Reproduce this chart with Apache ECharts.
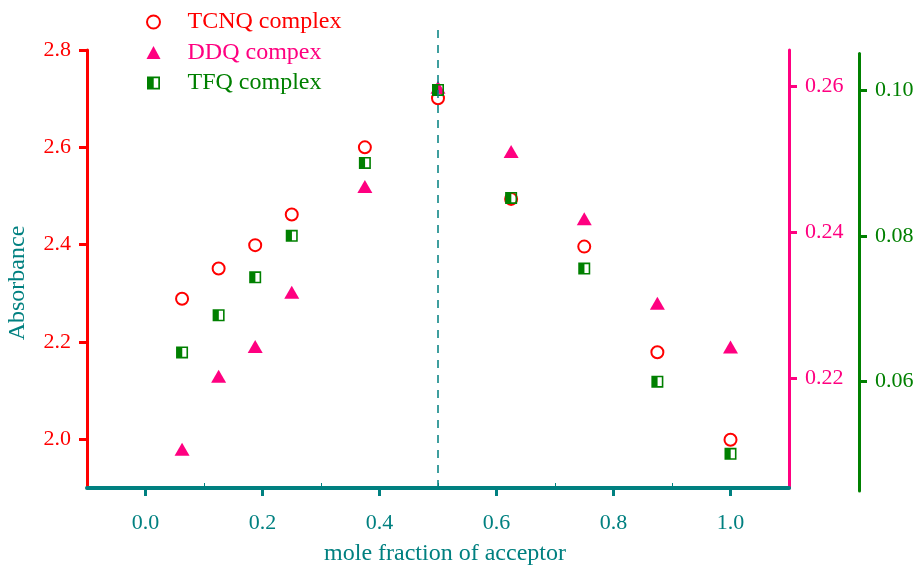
<!DOCTYPE html>
<html>
<head>
<meta charset="utf-8">
<script src="https://cdn.jsdelivr.net/npm/echarts@6/dist/echarts.min.js"></script>
<style>html,body{margin:0;padding:0;background:#fff;}#chart{width:917px;height:568px;}</style>
</head>
<body>
<div id="chart"></div>
<script>
// ---- data ----
var xValues = [0.0625, 0.125, 0.1875, 0.25, 0.375, 0.5, 0.625, 0.75, 0.875, 1.0];
var tcnq = [2.289, 2.351, 2.399, 2.462, 2.600, 2.701, 2.494, 2.396, 2.179, 1.999];
var ddq = [0.2103, 0.2203, 0.2244, 0.2318, 0.2463, 0.2599, 0.2511, 0.2419, 0.2303, 0.2243];
var tfq = [0.0640, 0.0691, 0.0743, 0.0800, 0.0900, 0.1000, 0.0852, 0.0755, 0.0600, 0.0501];
var seriesNames = ['TCNQ complex', 'DDQ compex', 'TFQ complex'];
var xTicks = [0.0, 0.2, 0.4, 0.6, 0.8, 1.0];
var xMinorTicks = [0.1, 0.3, 0.5, 0.7, 0.9];
var leftTicks = [2.0, 2.2, 2.4, 2.6, 2.8];
var pinkTicks = [0.22, 0.24, 0.26];
var greenTicks = [0.06, 0.08, 0.10];
var equivalencePoint = 0.5;

function pairs(ys) { return xValues.map(function (x, i) { return [x, ys[i]]; }); }

var RED = '#ff0000', PINK = '#ff0080', GREEN = '#008000', TEAL = '#008080';
var FONT = 'Liberation Serif';
var halfSquare = 'path://M0,0 L12,0 L12,12 L0,12 Z M6.2,1.6 L6.2,10.4 L10.4,10.4 L10.4,1.6 Z';

var chart = echarts.init(document.getElementById('chart'), null, {renderer: 'canvas'});
var option = {
  backgroundColor: '#ffffff',
  animation: false,
  grid: [
    {left: 87, right: 128, top: 50, bottom: 80, containLabel: false, outerBoundsMode: 'none'},
    {left: 87, right: 128, top: 53.5, bottom: 77, containLabel: false, outerBoundsMode: 'none'},
    {left: 87, right: 128, top: 25, bottom: 80, containLabel: false, outerBoundsMode: 'none'}
  ],
  legend: {
    orient: 'vertical', left: 141, top: 5,
    itemWidth: 14, itemHeight: 13, itemGap: 6.5,
    textStyle: {fontFamily: FONT, fontSize: 24, padding: [0, 0, 0, 22]},
    data: [
      {name: seriesNames[0], icon: 'emptyCircle', textStyle: {color: RED}},
      {name: seriesNames[1], icon: 'triangle', textStyle: {color: PINK}},
      {name: seriesNames[2], icon: halfSquare, textStyle: {color: GREEN}}
    ]
  },
  xAxis: [
    {
      gridIndex: 0, type: 'value', min: -0.1, max: 1.1,
      name: 'mole fraction of acceptor', nameLocation: 'middle', nameGap: 54,
      nameTextStyle: {fontFamily: FONT, fontSize: 24, color: TEAL, padding: [0, 0, 0, 14]},
      axisLine: {show: true, onZero: false, lineStyle: {color: TEAL, width: 4}},
      axisTick: {show: true, customValues: xTicks, length: 8, lineStyle: {color: TEAL, width: 3}},
      axisLabel: {customValues: xTicks, margin: 24, fontFamily: FONT, fontSize: 22, color: TEAL,
        formatter: function (v) { return v.toFixed(1); }},
      splitLine: {show: false}
    },
    {
      gridIndex: 1, type: 'value', min: -0.1, max: 1.1, show: false
    },
    {
      gridIndex: 2, type: 'value', min: -0.1, max: 1.1,
      axisLine: {show: false, onZero: false},
      axisTick: {show: true, inside: true, customValues: xMinorTicks, length: 5, lineStyle: {color: TEAL, width: 1}},
      axisLabel: {show: false},
      splitLine: {show: false}
    }
  ],
  yAxis: [
    {
      gridIndex: 0, type: 'value', min: 1.9, max: 2.8, position: 'left',
      axisLine: {show: true, onZero: false, lineStyle: {color: RED, width: 3}},
      axisTick: {show: true, customValues: leftTicks, length: 8, lineStyle: {color: RED, width: 3}},
      axisLabel: {customValues: leftTicks, margin: 16, fontFamily: FONT, fontSize: 22, color: RED,
        formatter: function (v) { return v.toFixed(1); }},
      splitLine: {show: false}
    },
    {
      gridIndex: 0, type: 'value', min: 0.205, max: 0.265, position: 'right',
      axisLine: {show: true, onZero: false, lineStyle: {color: PINK, width: 3}},
      axisTick: {show: true, customValues: pinkTicks, length: 8, lineStyle: {color: PINK, width: 3}},
      axisLabel: {customValues: pinkTicks, margin: 16, fontFamily: FONT, fontSize: 22, color: PINK,
        formatter: function (v) { return v.toFixed(2); }},
      splitLine: {show: false}
    },
    {
      gridIndex: 1, type: 'value', min: 0.045, max: 0.105, position: 'right', offset: 70,
      axisLine: {show: true, onZero: false, lineStyle: {color: GREEN, width: 3}},
      axisTick: {show: true, customValues: greenTicks, length: 8, lineStyle: {color: GREEN, width: 3}},
      axisLabel: {customValues: greenTicks, margin: 16, fontFamily: FONT, fontSize: 22, color: GREEN,
        formatter: function (v) { return v.toFixed(2); }},
      splitLine: {show: false}
    },
    {
      gridIndex: 2, type: 'value', min: 0, max: 1, show: false
    }
  ],
  graphic: [
    {type: 'text', x: 18, y: 283, rotation: Math.PI / 2,
     style: {text: 'Absorbance', fill: TEAL, font: '24px "Liberation Serif"', align: 'center', verticalAlign: 'middle'}}
  ],
  series: [
    {
      name: 'guide', type: 'scatter', xAxisIndex: 2, yAxisIndex: 3, data: [], silent: true,
      markLine: {
        silent: true, symbol: 'none', label: {show: false},
        lineStyle: {color: TEAL, type: [8, 7], width: 1.5},
        data: [{xAxis: equivalencePoint}]
      }
    },
    {
      name: seriesNames[0], type: 'scatter', xAxisIndex: 0, yAxisIndex: 0,
      symbol: 'emptyCircle', symbolSize: 12,
      itemStyle: {color: RED, borderColor: RED, borderWidth: 1.2, opacity: 1},
      data: pairs(tcnq)
    },
    {
      name: seriesNames[1], type: 'scatter', xAxisIndex: 0, yAxisIndex: 1,
      symbol: 'triangle', symbolSize: [15, 13],
      itemStyle: {color: PINK, opacity: 1},
      data: pairs(ddq)
    },
    {
      name: seriesNames[2], type: 'scatter', xAxisIndex: 1, yAxisIndex: 2,
      symbol: halfSquare, symbolSize: 12, symbolKeepAspect: true,
      itemStyle: {color: GREEN, opacity: 1},
      data: pairs(tfq)
    }
  ]
};
chart.setOption(option);
</script>
</body>
</html>
